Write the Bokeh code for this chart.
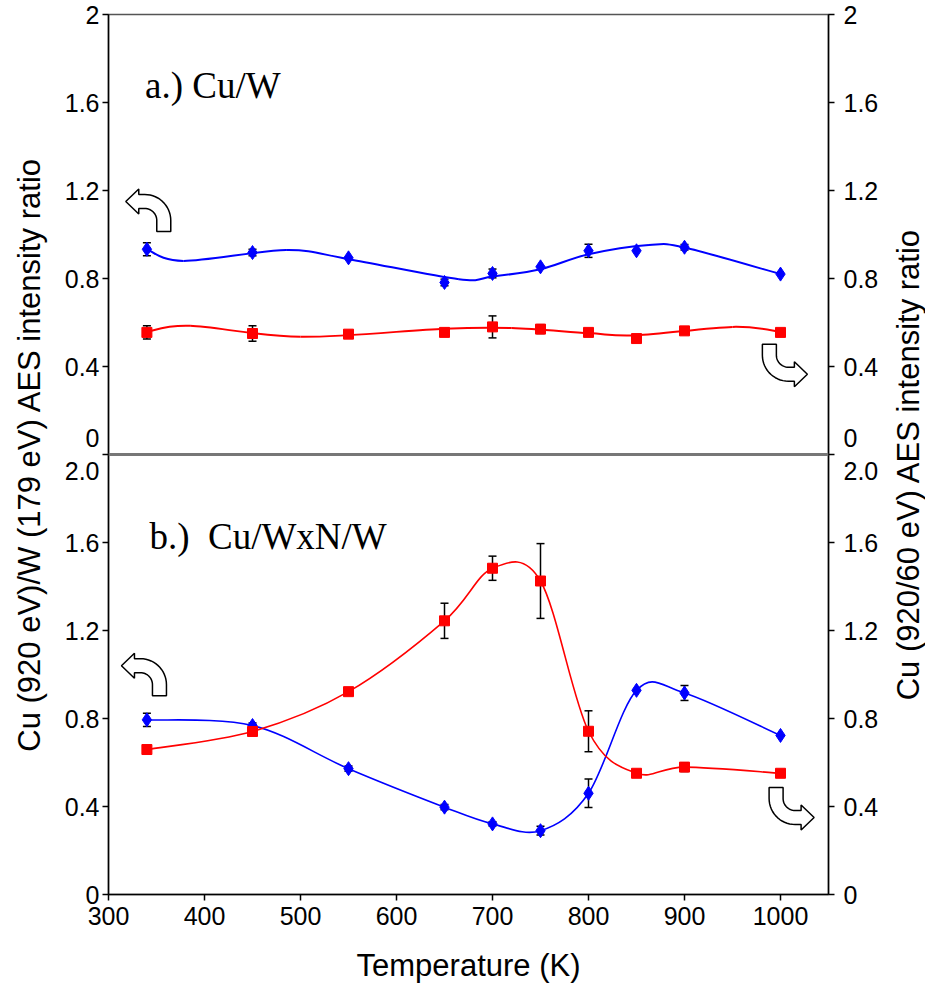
import numpy as np
from bokeh.plotting import figure
from bokeh.layouts import row
from bokeh.models import (Range1d, LinearAxis, FixedTicker, ColumnDataSource,
                          Whisker, TeeHead, Label, Span)
from bokeh.embed import file_html
from bokeh.resources import INLINE

# ---------------- data ----------------
temperature_K = [340, 450, 550, 650, 700, 750, 800, 850, 900, 1000]

# panel a) Cu/W
a_cu_w_ratio = [0.933, 0.918, 0.894, 0.782, 0.823, 0.853, 0.926, 0.926, 0.942, 0.820]
a_cu_w_err = [0.03, 0.015, 0.0, 0.015, 0.02, 0.0, 0.03, 0.0, 0.012, 0.0]
a_cu_ratio = [0.555, 0.550, 0.547, 0.555, 0.580, 0.570, 0.555, 0.527, 0.562, 0.555]
a_cu_err = [0.03, 0.035, 0.0, 0.0, 0.05, 0.02, 0.0, 0.0, 0.0, 0.0]
# smoothed trend curves drawn in panel a)
a_cu_w_trend_T = [340, 378, 485, 550, 665, 700, 750, 800, 863, 900, 1000]
a_cu_w_trend = [0.933, 0.880, 0.929, 0.888, 0.797, 0.809, 0.842, 0.910, 0.952, 0.941, 0.820]
a_cu_trend_T = [340, 385, 500, 650, 720, 800, 850, 950, 1000]
a_cu_trend = [0.558, 0.585, 0.535, 0.572, 0.575, 0.552, 0.542, 0.580, 0.558]

# panel b) Cu/WxN/W
b_cu_w_ratio = [0.794, 0.768, 0.572, 0.397, 0.321, 0.290, 0.460, 0.928, 0.916, 0.723]
b_cu_w_err = [0.03, 0.012, 0.012, 0.012, 0.01, 0.02, 0.065, 0.0, 0.034, 0.0]
b_cu_ratio = [0.659, 0.741, 0.922, 1.244, 1.483, 1.425, 0.742, 0.551, 0.579, 0.551]
b_cu_err = [0.0, 0.0, 0.0, 0.08, 0.055, 0.17, 0.093, 0.0, 0.02, 0.0]

x_ticks = [300, 400, 500, 600, 700, 800, 900, 1000]
y_ticks = [0, 0.4, 0.8, 1.2, 1.6, 2]
a_tick_labels = ["0", "0.4", "0.8", "1.2", "1.6", "2"]
b_tick_labels = ["0", "0.4", "0.8", "1.2", "1.6", "2.0"]

x_title = "Temperature (K)"
left_title = "Cu (920 eV)/W (179 eV) AES intensity ratio"
right_title = "Cu (920/60 eV) AES intensity ratio"
panel_a_title = "a.) Cu/W"
panel_b_title = "b.)\u00a0 Cu/WxN/W"

# ---------------- styling / layout ----------------
FRAME_W, FRAME_H = 720, 880
BORDER_L, BORDER_R, BORDER_T, BORDER_B = 108, 62, 14, 96
TOTAL_H = BORDER_T + FRAME_H + BORDER_B
SIDE_W = 35
X_START, X_END = 300, 1050
B_START, B_END = 0, 4        # panel b occupies 0..2 of this range
A_START, A_END = -2, 2       # panel a occupies 0..2 of this range
PANEL_SHIFT = B_END - A_END  # where panel a's zero sits on the main range
BLUE, RED = "#0000FF", "#FF0000"
SANS, SERIF = "Liberation Sans", "Liberation Serif"
TITLE_SIZE = "31px"

p = figure(frame_width=FRAME_W, frame_height=FRAME_H,
           x_range=Range1d(X_START, X_END), y_range=Range1d(B_START, B_END),
           output_backend="svg", toolbar_location=None,
           min_border_left=BORDER_L, min_border_right=BORDER_R,
           min_border_top=BORDER_T, min_border_bottom=BORDER_B,
           background_fill_color="white", border_fill_color="white")
p.extra_y_ranges = {"a": Range1d(A_START, A_END)}
p.xgrid.visible = False
p.ygrid.visible = False
p.outline_line_color = "#555555"
p.outline_line_width = 1.5


def clean(v):
    v = round(v, 1)
    return int(v) if v == int(v) else v


# one axis carries both panels: panel b below, panel a stacked on top
main_y_ticks = [clean(t) for t in y_ticks] + [clean(t + PANEL_SHIFT) for t in y_ticks[1:]]
y_overrides = {}
for t, lab in zip(y_ticks, b_tick_labels):
    y_overrides[clean(t)] = lab
for t, lab in zip(y_ticks[1:], a_tick_labels[1:]):
    y_overrides[clean(t + PANEL_SHIFT)] = lab
y_overrides[clean(PANEL_SHIFT)] = a_tick_labels[0] + "\n" + b_tick_labels[-1]

left_axis = p.yaxis[0]
right_axis = LinearAxis()
p.add_layout(right_axis, "right")
bottom_axis = p.xaxis[0]

left_axis.ticker = FixedTicker(ticks=main_y_ticks)
right_axis.ticker = FixedTicker(ticks=main_y_ticks)
bottom_axis.ticker = FixedTicker(ticks=x_ticks)
left_axis.major_label_overrides = y_overrides
right_axis.major_label_overrides = y_overrides
for ax in (left_axis, right_axis, bottom_axis):
    ax.major_label_text_font = SANS
    ax.major_label_text_font_size = "25px"
    ax.major_label_text_color = "black"
    ax.major_tick_out = 6
    ax.major_tick_in = 0
    ax.minor_tick_line_color = None
    ax.axis_line_color = "black"
    ax.axis_line_width = 1.5
    ax.major_tick_line_color = "black"
    ax.major_tick_line_width = 1.5
    ax.axis_label_text_font = SANS
    ax.axis_label_text_font_size = TITLE_SIZE
    ax.axis_label_text_font_style = "normal"
    ax.axis_label_text_color = "black"
left_axis.major_label_standoff = 3
right_axis.major_label_standoff = 9
bottom_axis.major_label_standoff = 6
left_axis.axis_label = left_title
left_axis.axis_label_standoff = 15
bottom_axis.axis_label = x_title
bottom_axis.axis_label_standoff = 20

# separator between the two panels
p.add_layout(Span(location=PANEL_SHIFT, dimension="width", line_color="#777777", line_width=3))


# ---------------- helpers ----------------
def smooth_source(xs, ys):
    """Cubic Bezier segments of a Catmull-Rom spline through the given points."""
    x = np.asarray(xs, float)
    y = np.asarray(ys, float)
    xp = np.concatenate([[x[0]], x, [x[-1]]])
    yp = np.concatenate([[y[0]], y, [y[-1]]])
    return ColumnDataSource(dict(
        x0=xp[1:-2], y0=yp[1:-2], x1=xp[2:-1], y1=yp[2:-1],
        cx0=xp[1:-2] + (xp[2:-1] - xp[:-3]) / 6.0,
        cy0=yp[1:-2] + (yp[2:-1] - yp[:-3]) / 6.0,
        cx1=xp[2:-1] - (xp[3:] - xp[1:-2]) / 6.0,
        cy1=yp[2:-1] - (yp[3:] - yp[1:-2]) / 6.0,
    ))


def add_curve(xs, ys, color, width, range_name):
    p.bezier(x0="x0", y0="y0", x1="x1", y1="y1", cx0="cx0", cy0="cy0",
             cx1="cx1", cy1="cy1", source=smooth_source(xs, ys),
             line_color=color, line_width=width, y_range_name=range_name)


def add_errorbars(vals, errs, range_name):
    keep = [i for i, e in enumerate(errs) if e > 0]
    src = ColumnDataSource(dict(
        x=[temperature_K[i] for i in keep],
        upper=[vals[i] + errs[i] for i in keep],
        lower=[vals[i] - errs[i] for i in keep]))
    w = Whisker(source=src, base="x", upper="upper", lower="lower", dimension="height",
                line_color="black", line_width=1.5,
                upper_head=TeeHead(size=8, line_color="black", line_width=1.5),
                lower_head=TeeHead(size=8, line_color="black", line_width=1.5),
                y_range_name=range_name)
    p.add_layout(w)


def add_points(vals, marker, size, color, range_name):
    p.scatter(temperature_K, vals, marker=marker, size=size, fill_color=color,
              line_color=color, y_range_name=range_name)


def add_arrow(tip_x, tip_y, pointing_right, range_name):
    px_x = FRAME_W / (X_END - X_START)
    px_y = FRAME_H / (B_END - B_START)
    h, head_half, head_len, rc, reach, tail = 7.0, 12.5, 13.0, 19.0, 38.0, 30.0
    cx = reach - rc
    R, r = rc + h, rc - h
    pts = [(0.0, 0.0), (head_len, -head_half), (head_len, -h), (cx, -h)]
    for ang in np.linspace(-np.pi / 2, 0, 16)[1:]:
        pts.append((cx + R * np.cos(ang), rc + R * np.sin(ang)))
    pts += [(cx + R, tail), (cx + r, tail)]
    for ang in np.linspace(0, -np.pi / 2, 16)[:-1]:
        pts.append((cx + r * np.cos(ang), rc + r * np.sin(ang)))
    pts += [(cx, h), (head_len, h), (head_len, head_half)]
    sx = np.array([q[0] for q in pts])
    sy = np.array([q[1] for q in pts])
    if pointing_right:
        sx, sy = -sx, -sy
    p.patch(tip_x + sx / px_x, tip_y - sy / px_y, fill_color="white", line_color="black",
            line_width=1.5, y_range_name=range_name)


# ---------------- panel a ----------------
add_curve(a_cu_w_trend_T, a_cu_w_trend, BLUE, 2, "a")
add_curve(a_cu_trend_T, a_cu_trend, RED, 2, "a")
add_errorbars(a_cu_w_ratio, a_cu_w_err, "a")
add_errorbars(a_cu_ratio, a_cu_err, "a")
add_points(a_cu_w_ratio, "diamond", 14, BLUE, "a")
add_points(a_cu_ratio, "square", 10, RED, "a")

# ---------------- panel b ----------------
add_curve(temperature_K, b_cu_w_ratio, BLUE, 1.6, "default")
add_curve(temperature_K, b_cu_ratio, RED, 1.6, "default")
add_errorbars(b_cu_w_ratio, b_cu_w_err, "default")
add_errorbars(b_cu_ratio, b_cu_err, "default")
add_points(b_cu_w_ratio, "diamond", 14, BLUE, "default")
add_points(b_cu_ratio, "square", 10, RED, "default")

# axis arrows
add_arrow(318, 1.15, False, "a")
add_arrow(1028, 0.365, True, "a")
add_arrow(313.5, 1.04, False, "default")
add_arrow(1035, 0.35, True, "default")

# panel titles
p.add_layout(Label(x=338, y=1.678, y_range_name="a", text=panel_a_title, text_font=SERIF,
                   text_font_size="37px", text_baseline="middle", text_align="left",
                   text_color="black"))
p.add_layout(Label(x=342.6, y=1.626, text=panel_b_title, text_font=SERIF,
                   text_font_size="37px", text_baseline="middle", text_align="left",
                   text_color="black"))

# ---------------- right-hand title strip (reads bottom-to-top) ----------------
side = figure(width=SIDE_W, height=TOTAL_H, x_range=Range1d(0, 1), y_range=Range1d(0, TOTAL_H),
              output_backend="svg", toolbar_location=None, min_border=0,
              x_axis_location=None, y_axis_location=None,
              background_fill_color="white", border_fill_color="white")
side.outline_line_color = None
side.xgrid.visible = False
side.ygrid.visible = False
side.add_layout(Label(x=0.5, y=TOTAL_H - 506, angle=np.pi / 2, text=right_title,
                      text_font=SANS, text_font_size=TITLE_SIZE, text_align="center",
                      text_baseline="middle", text_color="black"))

layout = row(p, side)
open("out.html", "w").write(file_html(layout, INLINE))
